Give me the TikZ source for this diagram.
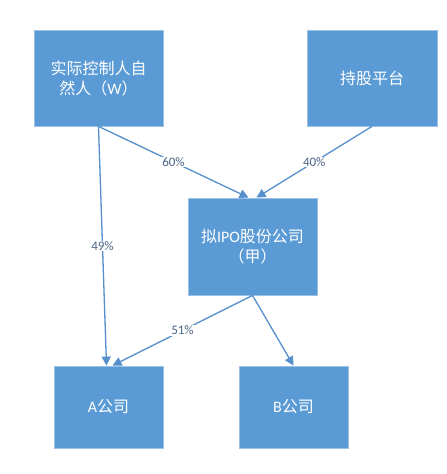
\documentclass[tikz,border=0pt]{standalone}
\usepackage{fontspec}
\setmainfont{Carlito}
\newfontfamily\cjk{Noto Sans CJK SC}
\usetikzlibrary{arrows.meta}
\definecolor{boxblue}{HTML}{5B9BD5}
\definecolor{boxedge}{HTML}{9DC1E6}
\definecolor{linkblue}{HTML}{5590CC}
\definecolor{labtext}{HTML}{4A6487}
\tikzset{
  boxnode/.style={rectangle, fill=boxblue, draw=boxedge, line width=0.8pt,
    text=white, align=center, font=\cjk\fontsize{16}{22}\selectfont, inner sep=2pt},
  link/.style={draw=linkblue, line width=1.3pt, -{Triangle[length=9pt,width=9pt]}},
  pct/.style={fill=white, text=labtext, font=\fontsize{13}{14}\selectfont, inner sep=1pt, pos=0.5}
}
\newcommand{\lat}[1]{{\fontspec{Carlito}#1}}
\begin{document}
\begin{tikzpicture}[x=1pt,y=-1pt]
\useasboundingbox (0,0) rectangle (447,474);
\fill[white] (0,0) rectangle (447,474);
\node[boxnode, minimum width=129pt, minimum height=96pt] (W) at (98.5,78) {实际控制人自\\[-2pt]然人（\lat{W}）};
\node[boxnode, minimum width=130pt, minimum height=96pt] (P) at (372,78) {持股平台};
\node[boxnode, minimum width=129pt, minimum height=97pt] (J) at (252.5,246.5) {拟\lat{IPO}股份公司\\[-2pt]（甲）};
\node[boxnode, minimum width=109pt, minimum height=82pt] (A) at (108.5,407) {\lat{A}公司};
\node[boxnode, minimum width=109pt, minimum height=82pt] (B) at (293.5,407) {\lat{B}公司};
\draw[link] (W.south) -- node[pct] {60\%} ([xshift=-4pt]J.north);
\draw[link] (P.south) -- node[pct] {40\%} ([xshift=4pt]J.north);
\draw[link] (W.south) -- node[pct] {49\%} ([xshift=-2pt]A.north);
\draw[link] (J.south) -- node[pct] {51\%} ([xshift=4pt]A.north);
\draw[link] (J.south) -- (B.north);
\end{tikzpicture}
\end{document}
